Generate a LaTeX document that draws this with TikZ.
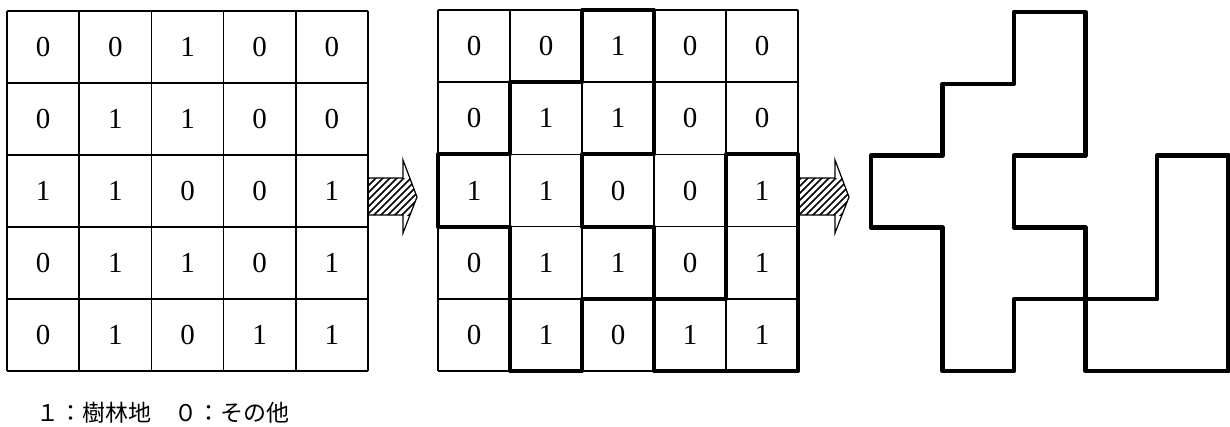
\documentclass[tikz,border=0pt]{standalone}
\usepackage{fontspec}
\newfontfamily\cjk{Noto Sans CJK JP}
\newfontfamily\digitfont{Liberation Serif}
\tikzset{
  thin grid/.style={line width=1.5pt},
  thick outline/.style={line width=4pt, line join=round},
  digit/.style={font=\digitfont\fontsize{29}{29}\selectfont, inner sep=0pt},
  arrowline/.style={line width=1.2pt, line join=miter},
  hatchline/.style={line width=1.6pt},
}
\newcommand\crossoutline{(2,0)--(3,0)--(3,2)--(2,2)--(2,3)--(3,3)--(3,4)--(2,4)--(2,5)--(1,5)--(1,3)--(0,3)--(0,2)--(1,2)--(1,1)--(2,1)--cycle}
\newcommand\loutline{(4,2)--(5,2)--(5,5)--(3,5)--(3,4)--(4,4)--cycle}
\newcommand\cellgrid{\foreach \k in {0,...,5}{\draw[thin grid] (\k,0)--(\k,5); \draw[thin grid] (0,\k)--(5,\k);}}
\newcommand\hatcharrow[2]{%
  \begin{scope}[shift={(#1pt,-197pt)}]
    \begin{scope}
      \clip (0pt,19pt)--(35pt,19pt)--(35pt,37pt)--(49pt,0pt)--(35pt,-36pt)--(35pt,-18pt)--(0pt,-18pt)--cycle;
      \clip (0pt,-18pt) rectangle (50pt,19pt);
      \foreach \i in {-45,-38,...,60}{
        \draw[hatchline] (\i pt,-20pt) -- ++(42pt,42pt);
      }
    \end{scope}
    \coordinate (#2) at (49pt,0pt);
    \draw[arrowline] (0pt,19pt)--(35pt,19pt)--(35pt,37pt)--(#2)--(35pt,-36pt)--(35pt,-18pt)--(0pt,-18pt);
  \end{scope}}
\begin{document}
\begin{tikzpicture}
\useasboundingbox (0,0) rectangle (1230pt,-426pt);
% panel 1
\begin{scope}[shift={(7pt,-11pt)}, x=72.2pt, y=-72pt]
  \cellgrid
  \foreach \row [count=\r from 0] in {{0,0,1,0,0},{0,1,1,0,0},{1,1,0,0,1},{0,1,1,0,1},{0,1,0,1,1}}{
    \foreach \v [count=\c from 0] in \row {
      \node[digit] (a-\r-\c) at (\c+0.5,\r+0.5) {\v};
    }
  }
\end{scope}
% panel 2
\begin{scope}[shift={(438pt,-10pt)}, x=72pt, y=-72.2pt]
  \cellgrid
  \foreach \row [count=\r from 0] in {{0,0,1,0,0},{0,1,1,0,0},{1,1,0,0,1},{0,1,1,0,1},{0,1,0,1,1}}{
    \foreach \v [count=\c from 0] in \row {
      \node[digit] (b-\r-\c) at (\c+0.5,\r+0.5) {\v};
    }
  }
  \draw[thick outline] \crossoutline;
  \draw[thick outline] \loutline;
\end{scope}
% panel 3
\begin{scope}[shift={(871pt,-12pt)}, x=71.5pt, y=-71.8pt]
  \draw[line width=4.5pt, line join=round] \crossoutline;
  \draw[line width=4.5pt, line join=round] \loutline;
\end{scope}
% arrows
\hatcharrow{368}{tipA}
\hatcharrow{800}{tipB}
% legend
\node[anchor=west, inner sep=0pt, font=\cjk\fontsize{23}{23}\selectfont] (legend) at (36pt,-413pt) {１：樹林地　０：その他};
\end{tikzpicture}
\end{document}
